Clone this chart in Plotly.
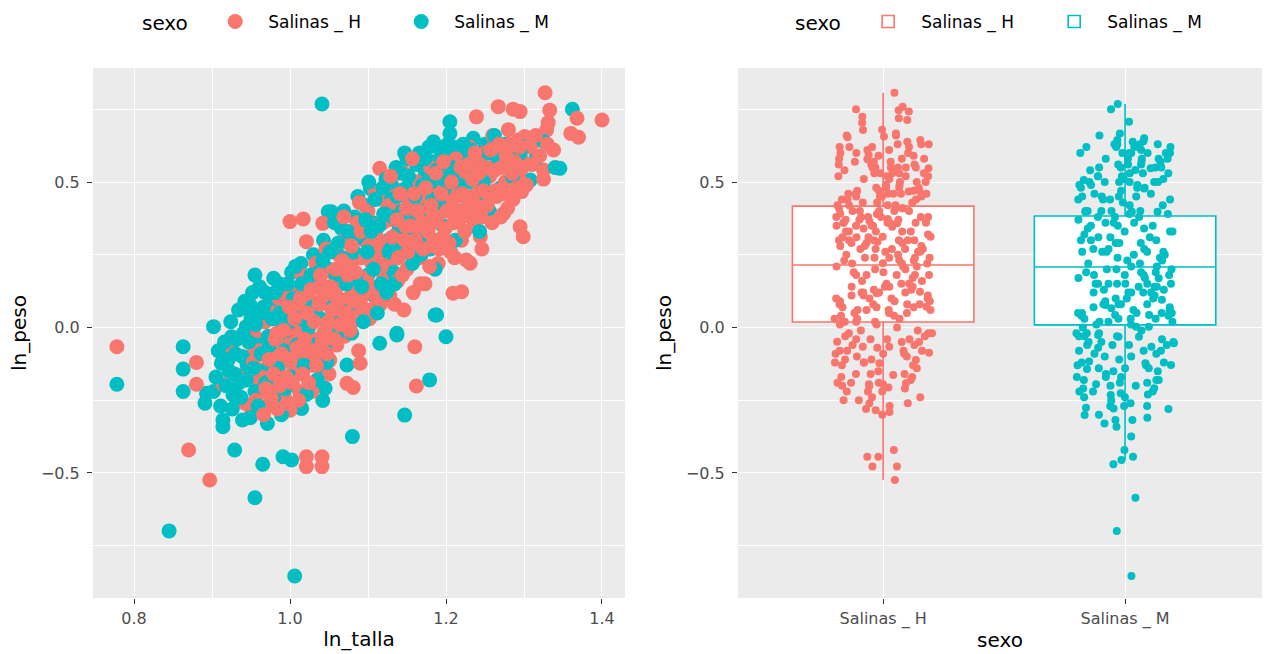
import plotly.graph_objects as go

# ---------------- data ----------------
groups = ["Salinas _ H", "Salinas _ M"]
colors = ["#F8766D", "#00BFC4"]

# (ln_talla, ln_peso) for sexo = Salinas _ H
H_points = [
    (0.778, -0.066), (0.880, -0.120), (0.880, -0.195), (0.914, -0.195), (0.870, -0.421), (0.897, -0.524),
    (1.021, -0.444), (1.041, -0.444), (1.021, -0.478), (1.041, -0.478), (1.000, -0.284), (0.940, -0.163),
    (1.160, -0.066), (1.162, -0.201), (1.073, -0.192), (1.081, -0.206), (1.028, -0.220), (1.090, -0.123),
    (1.051, -0.112), (1.000, 0.364), (1.017, 0.373), (1.042, 0.358), (1.021, 0.295), (0.970, 0.071),
    (0.927, -0.049), (0.919, -0.087), (1.327, 0.807), (1.267, 0.759), (1.286, 0.750), (1.295, 0.742),
    (1.239, 0.724), (1.333, 0.747), (1.368, 0.719), (1.400, 0.713), (1.331, 0.704), (1.329, 0.679),
    (1.360, 0.667), (1.370, 0.654), (1.301, 0.656), (1.312, 0.638), (1.297, 0.467), (1.299, 0.312),
    (1.295, 0.346), (1.231, 0.221), (1.147, 0.530), (1.160, 0.578), (1.280, 0.593), (1.325, 0.541),
    (1.338, 0.610), (1.244, 0.312), (1.274, 0.392), (1.115, 0.547), (1.220, 0.123), (1.209, 0.118),
    (1.226, 0.232), (1.293, 0.644),
    (0.942, -0.26), (0.948, -0.10), (0.955, -0.03), (0.958, -0.18), (0.962, -0.22), (0.965, -0.05),
    (0.968, 0.02), (0.970, -0.14), (0.972, -0.27), (0.975, -0.08), (0.978, 0.05), (0.980, -0.19),
    (0.983, -0.02), (0.986, 0.10), (0.990, -0.12), (0.993, -0.24), (0.996, 0.04), (0.998, -0.06),
    (1.002, 0.12), (1.005, -0.15), (1.008, -0.02), (1.010, 0.07), (1.012, -0.22), (1.015, 0.18),
    (1.018, -0.09), (1.020, 0.01), (1.023, 0.14), (1.026, -0.13), (1.028, 0.09), (1.030, -0.04),
    (1.033, 0.22), (1.035, 0.03), (1.038, -0.10), (1.040, 0.15), (1.043, -0.02), (1.046, 0.27),
    (1.048, 0.08), (1.050, -0.16), (1.053, 0.19), (1.056, 0.00), (1.058, 0.12), (1.060, -0.06),
    (1.062, 0.25), (1.065, 0.06), (1.068, 0.16), (1.070, -0.03), (1.072, 0.31), (1.075, 0.10),
    (1.078, 0.21), (1.080, 0.02), (1.083, 0.14), (1.086, 0.36), (1.088, -0.08), (1.090, 0.24),
    (1.092, 0.07), (1.095, 0.30), (1.098, 0.17), (1.100, 0.40), (1.102, 0.03), (1.105, 0.22),
    (1.108, 0.12), (1.110, 0.33), (1.113, 0.26), (1.116, 0.08), (1.118, 0.44), (1.120, 0.18),
    (1.123, 0.29), (1.126, 0.37), (1.128, 0.11), (1.130, 0.23), (1.133, 0.48), (1.136, 0.32),
    (1.138, 0.16), (1.140, 0.40), (1.143, 0.27), (1.146, 0.06), (1.148, 0.35), (1.150, 0.20),
    (1.153, 0.43), (1.156, 0.29), (1.158, 0.12), (1.160, 0.38), (1.163, 0.50), (1.166, 0.24),
    (1.168, 0.33), (1.170, 0.45), (1.173, 0.15), (1.176, 0.39), (1.178, 0.28), (1.180, 0.55),
    (1.183, 0.36), (1.186, 0.47), (1.190, 0.22), (1.193, 0.41), (1.196, 0.31), (1.200, 0.52),
    (1.203, 0.43), (1.206, 0.26), (1.210, 0.36), (1.213, 0.58), (1.216, 0.48), (1.220, 0.30),
    (1.223, 0.40), (1.226, 0.53), (1.230, 0.62), (1.233, 0.45), (1.236, 0.35), (1.240, 0.56),
    (1.243, 0.49), (1.246, 0.27), (1.250, 0.60), (1.253, 0.42), (1.256, 0.52), (1.260, 0.66),
    (1.263, 0.47), (1.266, 0.57), (1.270, 0.38), (1.273, 0.62), (1.276, 0.50), (1.280, 0.68),
    (1.283, 0.55), (1.286, 0.44), (1.290, 0.60), (1.293, 0.52), (1.296, 0.58), (1.303, 0.49),
    (1.306, 0.62), (1.310, 0.56), (1.315, 0.66), (1.320, 0.59), (1.325, 0.51), (1.330, 0.63),
    (0.951, -0.29), (0.953, -0.12), (0.957, -0.25), (0.960, -0.08), (0.963, -0.17), (0.966, -0.30),
    (0.969, -0.21), (0.973, -0.11), (0.976, -0.24), (0.979, -0.16), (0.981, -0.04), (0.984, -0.28),
    (0.987, -0.20), (0.989, -0.09), (0.992, -0.01), (0.995, -0.17), (0.997, -0.26), (0.999, 0.07),
    (1.001, -0.11), (1.003, -0.19), (1.006, 0.03), (1.009, -0.07), (1.011, -0.25), (1.013, 0.10),
    (1.016, -0.16), (1.019, -0.04), (1.022, 0.05), (1.024, -0.19), (1.027, 0.13), (1.029, -0.08),
    (1.031, 0.02), (1.034, -0.13), (1.037, 0.08), (1.039, 0.18), (1.041, -0.05), (1.044, 0.11),
    (1.047, -0.09), (1.049, 0.02), (1.052, 0.14), (1.054, 0.06), (1.057, -0.04), (1.059, 0.20),
    (1.061, 0.10), (1.064, 0.01), (1.067, 0.23), (1.069, 0.38), (1.071, 0.05), (1.074, 0.18),
    (1.077, -0.01), (1.079, 0.28), (1.081, 0.09), (1.084, 0.19), (1.087, 0.04), (1.089, 0.43),
    (1.091, 0.33), (1.094, 0.11), (1.097, 0.24), (1.099, 0.06), (1.101, 0.28), (1.104, 0.14),
    (1.107, 0.35), (1.109, 0.47), (1.112, 0.09), (1.114, 0.30), (1.117, 0.21), (1.119, 0.36),
    (1.121, 0.13), (1.124, 0.25), (1.127, 0.42), (1.129, 0.52), (1.131, 0.31), (1.134, 0.08),
    (1.137, 0.37), (1.139, 0.24), (1.141, 0.46), (1.144, 0.18), (1.147, 0.30), (1.149, 0.41),
    (1.151, 0.26), (1.154, 0.35), (1.157, 0.58), (1.159, 0.46), (1.161, 0.30), (1.164, 0.40),
    (1.167, 0.15), (1.169, 0.36), (1.171, 0.27), (1.174, 0.48), (1.177, 0.33), (1.179, 0.21),
    (1.181, 0.42), (1.184, 0.30), (1.187, 0.53), (1.189, 0.38), (1.191, 0.27), (1.194, 0.46),
    (1.197, 0.57), (1.199, 0.34), (1.201, 0.40), (1.204, 0.29), (1.207, 0.50), (1.209, 0.41),
    (1.211, 0.24), (1.214, 0.45), (1.217, 0.37), (1.219, 0.55), (1.221, 0.46), (1.224, 0.33),
    (1.227, 0.44), (1.229, 0.56), (1.232, 0.38), (1.234, 0.51), (1.237, 0.60), (1.239, 0.42),
    (1.242, 0.53), (1.245, 0.38), (1.248, 0.47), (1.251, 0.55), (1.254, 0.46), (1.257, 0.61),
    (1.259, 0.36), (1.262, 0.54), (1.265, 0.45), (1.268, 0.63), (1.271, 0.55), (1.274, 0.46),
    (1.277, 0.59), (1.279, 0.41), (1.282, 0.63), (1.285, 0.53), (1.288, 0.57), (1.291, 0.48),
    (1.294, 0.62), (1.298, 0.55),
]

# (ln_talla, ln_peso) for sexo = Salinas _ M
M_points = [
    (0.778, -0.195), (0.863, -0.066), (0.863, -0.143), (0.863, -0.220), (0.912, -0.123), (0.893, -0.226),
    (0.891, -0.260), (0.902, -0.220), (0.914, -0.318), (0.914, -0.341), (0.939, -0.318), (0.929, -0.421),
    (0.965, -0.470), (0.955, -0.585), (0.845, -0.699), (0.991, -0.444), (1.002, -0.455), (1.006, -0.854),
    (0.974, -0.270), (1.013, -0.276), (0.927, -0.232), (1.200, -0.032), (1.179, -0.180), (1.147, -0.301),
    (1.080, -0.375), (1.045, -0.209), (1.042, -0.251), (1.015, -0.278), (1.073, -0.129), (1.137, -0.026),
    (1.021, -0.117), (1.115, -0.054), (1.053, 0.398), (0.955, 0.180), (0.979, 0.169), (0.940, 0.066),
    (0.949, 0.077), (0.979, 0.095), (0.902, 0.003), (0.944, 0.003), (0.925, -0.032), (1.186, 0.043),
    (1.362, 0.750), (1.205, 0.707), (1.205, 0.667), (1.184, 0.638), (1.346, 0.547), (1.173, 0.541),
    (1.308, 0.507), (1.303, 0.644), (1.256, 0.398), (1.041, 0.768), (1.049, 0.398), (1.103, 0.478),
    (1.188, 0.043), (1.137, -0.020),
    (0.922, -0.15), (0.930, -0.09), (0.935, -0.19), (0.940, -0.02), (0.945, -0.13), (0.950, 0.03),
    (0.955, -0.22), (0.958, -0.06), (0.962, 0.05), (0.965, -0.15), (0.968, 0.12), (0.972, -0.03),
    (0.975, -0.20), (0.978, 0.08), (0.982, -0.10), (0.986, 0.15), (0.990, 0.01), (0.993, -0.17),
    (0.996, 0.11), (0.999, -0.05), (1.002, 0.19), (1.005, 0.04), (1.008, -0.12), (1.011, 0.13),
    (1.014, 0.22), (1.017, -0.03), (1.020, 0.08), (1.023, 0.17), (1.026, -0.08), (1.030, 0.25),
    (1.033, 0.05), (1.036, 0.14), (1.040, -0.14), (1.043, 0.30), (1.046, 0.10), (1.050, 0.20),
    (1.053, -0.03), (1.056, 0.27), (1.060, 0.15), (1.063, 0.04), (1.066, 0.34), (1.070, 0.21),
    (1.073, 0.08), (1.076, 0.29), (1.080, 0.13), (1.083, 0.38), (1.086, 0.24), (1.090, 0.05),
    (1.093, 0.32), (1.096, 0.42), (1.100, 0.18), (1.103, 0.27), (1.106, 0.36), (1.110, 0.10),
    (1.113, 0.46), (1.116, 0.23), (1.120, 0.39), (1.123, 0.51), (1.126, 0.30), (1.130, 0.44),
    (1.133, 0.19), (1.136, 0.55), (1.140, 0.35), (1.143, 0.47), (1.146, 0.26), (1.150, 0.58),
    (1.153, 0.40), (1.156, 0.31), (1.160, 0.50), (1.163, 0.43), (1.166, 0.60), (1.170, 0.34),
    (1.173, 0.52), (1.176, 0.45), (1.180, 0.27), (1.183, 0.57), (1.186, 0.40), (1.190, 0.62),
    (1.193, 0.49), (1.196, 0.35), (1.200, 0.58), (1.205, 0.46), (1.210, 0.62), (1.215, 0.53),
    (1.220, 0.40), (1.225, 0.60), (1.230, 0.50), (1.235, 0.65), (1.240, 0.44), (1.245, 0.58),
    (1.250, 0.63), (1.260, 0.55), (1.265, 0.62), (1.270, 0.48), (1.280, 0.60), (1.290, 0.56),
    (1.300, 0.62), (1.315, 0.58), (1.325, 0.64), (1.340, 0.55),
    (0.905, -0.17), (0.908, -0.08), (0.911, -0.27), (0.916, -0.05), (0.918, -0.20), (0.921, -0.11),
    (0.924, 0.02), (0.926, -0.28), (0.929, -0.16), (0.932, -0.04), (0.934, 0.06), (0.937, -0.24),
    (0.939, -0.10), (0.942, 0.09), (0.944, -0.18), (0.947, -0.05), (0.949, -0.31), (0.952, 0.12),
    (0.953, -0.14), (0.956, 0.01), (0.959, -0.27), (0.961, 0.14), (0.963, -0.09), (0.966, 0.07),
    (0.969, -0.19), (0.971, -0.33), (0.974, -0.06), (0.977, 0.03), (0.979, -0.24), (0.981, 0.12),
    (0.984, -0.14), (0.987, 0.05), (0.989, -0.30), (0.992, -0.08), (0.994, -0.21), (0.997, 0.15),
    (0.999, 0.02), (1.001, -0.17), (1.004, 0.10), (1.007, 0.21), (1.009, -0.06), (1.012, 0.03),
    (1.015, 0.15), (1.018, -0.13), (1.021, -0.23), (1.024, 0.00), (1.027, 0.18), (1.029, 0.07),
    (1.032, -0.06), (1.035, -0.18), (1.037, 0.19), (1.039, 0.03), (1.042, 0.23), (1.045, -0.07),
    (1.047, -0.12), (1.049, 0.12), (1.051, 0.26), (1.054, 0.08), (1.057, 0.36), (1.059, 0.18),
    (1.062, 0.29), (1.064, -0.01), (1.067, 0.24), (1.069, 0.40), (1.072, 0.15), (1.074, 0.33),
    (1.077, 0.06), (1.079, -0.02), (1.082, 0.26), (1.084, 0.17), (1.087, 0.45), (1.089, 0.31),
    (1.092, 0.14), (1.094, 0.02), (1.097, 0.37), (1.099, 0.26), (1.101, 0.50), (1.104, 0.33),
    (1.107, 0.20), (1.109, 0.44), (1.112, 0.05), (1.114, 0.35), (1.117, 0.15), (1.119, 0.48),
    (1.122, 0.39), (1.124, 0.12), (1.127, 0.26), (1.129, 0.50), (1.132, 0.38), (1.134, 0.15),
    (1.137, 0.45), (1.139, 0.29), (1.142, 0.53), (1.144, 0.40), (1.147, 0.60), (1.149, 0.48),
    (1.152, 0.52), (1.155, 0.36), (1.157, 0.22), (1.160, 0.45), (1.162, 0.56), (1.165, 0.38),
    (1.168, 0.25), (1.170, 0.49), (1.173, 0.58), (1.175, 0.31), (1.178, 0.62), (1.181, 0.50),
    (1.183, 0.44), (1.186, 0.20), (1.188, 0.54), (1.191, 0.42), (1.194, 0.60), (1.197, 0.51),
    (1.202, 0.63), (1.207, 0.55), (1.212, 0.30), (1.217, 0.49), (1.222, 0.63), (1.227, 0.56),
    (1.232, 0.61), (1.238, 0.53), (1.243, 0.33), (1.248, 0.50), (1.255, 0.60), (1.262, 0.66),
    (1.268, 0.57), (1.275, 0.63), (1.285, 0.52), (1.295, 0.60),
]

# box-plot statistics of ln_peso
box_q1 = [0.019, 0.009]
box_median = [0.215, 0.208]
box_q3 = [0.417, 0.383]
box_lower = [-0.524, -0.455]
box_upper = [0.807, 0.768]

H_talla = [p[0] for p in H_points]
H_peso = [p[1] for p in H_points]
M_talla = [p[0] for p in M_points]
M_peso = [p[1] for p in M_points]

# ---------------- figure ----------------
FONT = "DejaVu Sans"
W, H = 1270, 654
fig = go.Figure()

# left panel: scatter, interleaved in chunks so colours overlap as in the reference
def split(seq, k):
    n = len(seq)
    return [seq[i * n // k:(i + 1) * n // k] for i in range(k)]

K = 5
Hx, Hy, Mx, My = split(H_talla, K), split(H_peso, K), split(M_talla, K), split(M_peso, K)
for i in range(K):
    for g, xs, ys in [(1, Mx[i], My[i]), (0, Hx[i], Hy[i])]:
        fig.add_trace(go.Scatter(
            x=xs, y=ys, mode="markers", name=groups[g], legendgroup=groups[g],
            showlegend=(i == 0), legendrank=g + 1, legend="legend",
            marker=dict(color=colors[g], size=15, line=dict(width=0)),
            xaxis="x", yaxis="y", hoverinfo="skip",
        ))

# right panel: boxes from the statistics
for g in range(2):
    fig.add_trace(go.Box(
        x=[groups[g]], q1=[box_q1[g]], median=[box_median[g]], q3=[box_q3[g]],
        lowerfence=[box_lower[g]], upperfence=[box_upper[g]],
        name=groups[g], legend="legend2", legendrank=g + 1,
        fillcolor="white", line=dict(color=colors[g], width=1.6), whiskerwidth=0,
        boxpoints=False, width=0.75, xaxis="x2", yaxis="y2", hoverinfo="skip",
    ))

# right panel: jittered points
for g, ys in enumerate([H_peso, M_peso]):
    fig.add_trace(go.Box(
        x=[groups[g]] * len(ys), y=ys, name=groups[g], showlegend=False,
        boxpoints="all", jitter=0.54, pointpos=0, width=0.75, whiskerwidth=0,
        fillcolor="rgba(0,0,0,0)", line=dict(width=0, color="rgba(0,0,0,0)"),
        marker=dict(color=colors[g], size=8, line=dict(width=0)),
        xaxis="x2", yaxis="y2", hoverinfo="skip",
    ))

def px(a):
    return a / W

def py(b):
    return 1 - b / H

tickfont = dict(family=FONT, size=16, color="#4D4D4D")
titlefont = dict(family=FONT, size=20, color="black")
common = dict(showline=False, zeroline=False, ticks="outside", ticklen=5,
              tickcolor="#333333", tickwidth=1, gridcolor="white", gridwidth=1.1,
              tickfont=tickfont, automargin=False)

legend_common = dict(orientation="h", y=py(22), yanchor="middle", xanchor="left",
                     font=dict(family=FONT, size=17, color="black"), bgcolor="rgba(0,0,0,0)",
                     itemwidth=56, entrywidth=115, entrywidthmode="pixels", tracegroupgap=0)

fig.update_layout(
    width=W, height=H,
    margin=dict(l=0, r=0, t=0, b=0),
    paper_bgcolor="white", plot_bgcolor="#EBEBEB",
    boxmode="overlay",
    font=dict(family=FONT),
    xaxis=dict(domain=[px(93), px(625)], range=[0.7474, 1.4295], tickmode="linear",
               tick0=0.8, dtick=0.2, tickformat=".1f", anchor="y", ticklabelstandoff=1,
               minor=dict(dtick=0.1, tick0=0.8, showgrid=True, gridcolor="white", gridwidth=0.55, ticks=""),
               title=dict(text="ln_talla", font=titlefont, standoff=4), **common),
    yaxis=dict(domain=[py(598), py(68)], range=[-0.9296, 0.8918], tickmode="linear",
               tick0=0, dtick=0.5, tickformat=".1f", anchor="x", ticklabelstandoff=4,
               minor=dict(dtick=0.25, tick0=0, showgrid=True, gridcolor="white", gridwidth=0.55, ticks=""),
               title=dict(text="ln_peso", font=titlefont, standoff=8), **common),
    xaxis2=dict(domain=[px(738), px(1262)], range=[-0.6, 1.566], type="category",
                categoryorder="array", categoryarray=groups, anchor="y2", ticklabelstandoff=1,
                title=dict(text="sexo", font=titlefont, standoff=4), **common),
    yaxis2=dict(domain=[py(598), py(68)], range=[-0.9296, 0.8918], tickmode="linear",
                tick0=0, dtick=0.5, tickformat=".1f", anchor="x2", ticklabelstandoff=4,
                minor=dict(dtick=0.25, tick0=0, showgrid=True, gridcolor="white", gridwidth=0.55, ticks=""),
                title=dict(text="ln_peso", font=titlefont, standoff=8), **common),
    legend=dict(x=px(140),
                title=dict(text="sexo ", font=dict(family=FONT, size=20, color="black"), side="left"),
                itemsizing="trace", **legend_common),
    legend2=dict(x=px(793),
                 title=dict(text="sexo ", font=dict(family=FONT, size=20, color="black"), side="left"),
                 **legend_common),
)

fig.write_html("out.html")
